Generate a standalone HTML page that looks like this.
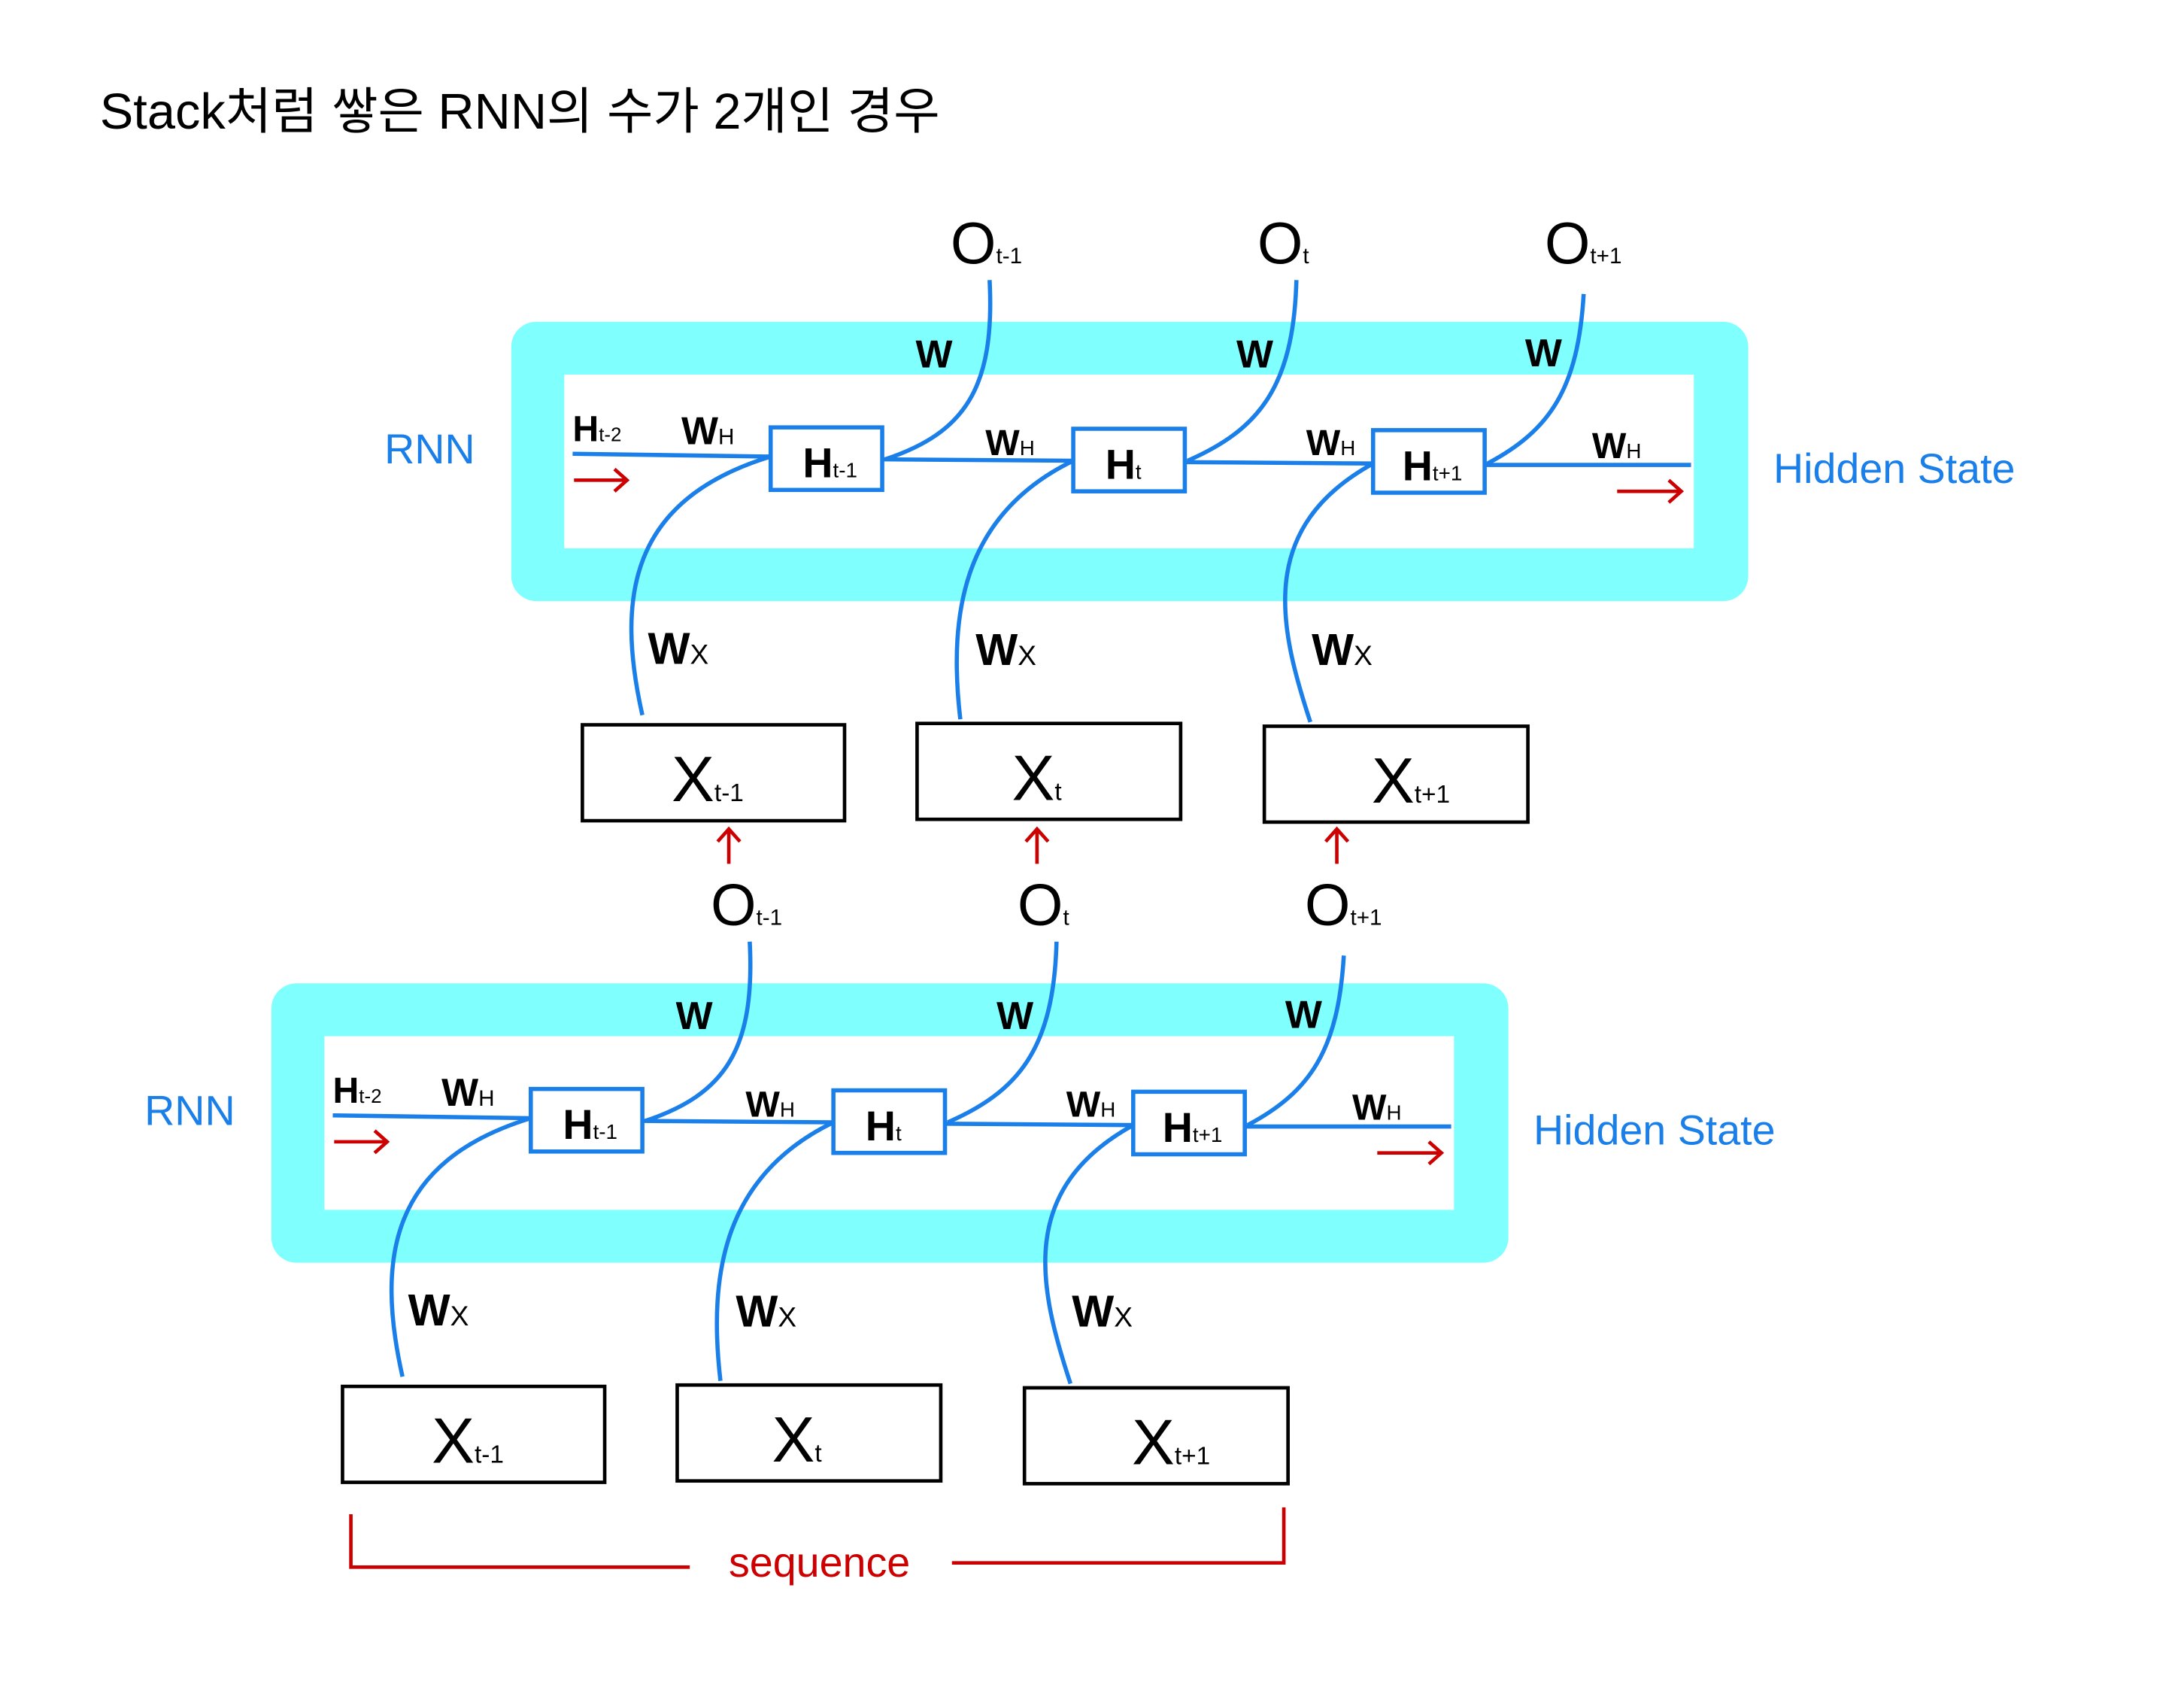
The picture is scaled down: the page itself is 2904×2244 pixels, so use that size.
<!DOCTYPE html>
<html><head><meta charset="utf-8"><style>
html,body{margin:0;padding:0;background:#fff;}
svg{display:block;}
.hw{font-family:"Liberation Sans",sans-serif;font-weight:bold;fill:#000;}
.ol{font-family:"Liberation Sans",sans-serif;font-weight:normal;fill:#000;}
.sub{font-family:"Liberation Sans",sans-serif;fill:#000;}
.bl{fill:none;stroke:#1a7fe8;stroke-width:3;}
</style></head><body>
<svg width="2904" height="2244" viewBox="0 0 1552 1199.3" preserveAspectRatio="none" xmlns="http://www.w3.org/2000/svg">
<defs>
<g id="blk">
  <rect x="365" y="232" width="887" height="201" rx="18" fill="#80ffff"/>
  <rect x="403" y="270" width="810" height="125" fill="#fff"/>
  <path class="bl" d="M409,327 L551,329 M631,331 L768,332 M848,333 L983,334 M1063,335 L1211,335"/>
  <path class="bl" d="M708,202 C712,280 690,312 633,331"/>
  <path class="bl" d="M928,202 C926,280 900,310 850,332"/>
  <path class="bl" d="M1134,212 C1130,280 1110,310 1065,334"/>
  <path class="bl" d="M459,515 C440,430 450,360 551,329"/>
  <path class="bl" d="M687,518 C678,440 690,370 768,332"/>
  <path class="bl" d="M938,520 C915,450 900,380 983,334"/>
  <rect x="551" y="308" width="80" height="45" fill="#fff" stroke="#1a7fe8" stroke-width="3"/>
  <rect x="768" y="309" width="80" height="45" fill="#fff" stroke="#1a7fe8" stroke-width="3"/>
  <rect x="983" y="310" width="80" height="45" fill="#fff" stroke="#1a7fe8" stroke-width="3"/>
  <text class="hw" x="574" y="344" font-size="30">H<tspan font-size="15" style="font-weight:normal">t-1</tspan></text>
  <text class="hw" x="791" y="345" font-size="30">H<tspan font-size="15" style="font-weight:normal">t</tspan></text>
  <text class="hw" x="1004" y="346" font-size="30">H<tspan font-size="15" style="font-weight:normal">t+1</tspan></text>
  <text class="hw" x="409" y="318" font-size="26">H<tspan font-size="14" style="font-weight:normal">t-2</tspan></text>
  <text class="hw" x="487" y="320" font-size="28">W<tspan font-size="16" style="font-weight:normal">H</tspan></text>
  <text class="hw" x="705" y="328" font-size="26">W<tspan font-size="15" style="font-weight:normal">H</tspan></text>
  <text class="hw" x="935" y="328" font-size="26">W<tspan font-size="15" style="font-weight:normal">H</tspan></text>
  <text class="hw" x="1140" y="330" font-size="26">W<tspan font-size="15" style="font-weight:normal">H</tspan></text>
  <text class="hw" x="655" y="265" font-size="28">W</text>
  <text class="hw" x="885" y="265" font-size="28">W</text>
  <text class="hw" x="1092" y="264" font-size="28">W</text>
  <text class="hw" x="463" y="478" font-size="32">W<tspan font-size="20" style="font-weight:normal">X</tspan></text>
  <text class="hw" x="698" y="479" font-size="32">W<tspan font-size="20" style="font-weight:normal">X</tspan></text>
  <text class="hw" x="939" y="479" font-size="32">W<tspan font-size="20" style="font-weight:normal">X</tspan></text>
  <text class="ol" x="680" y="190" font-size="42">O<tspan font-size="16">t-1</tspan></text>
  <text class="ol" x="900" y="190" font-size="42">O<tspan font-size="16">t</tspan></text>
  <text class="ol" x="1106" y="190" font-size="42">O<tspan font-size="16">t+1</tspan></text>
  <path d="M410,346 L447,346 M439,338 L448,346 L439,354" fill="none" stroke="#cc0000" stroke-width="2.5"/>
  <path d="M1158,354 L1203,354 M1195,346 L1204,354 L1195,362" fill="none" stroke="#cc0000" stroke-width="2.5"/>
  <text x="274" y="334" font-family="Liberation Sans,sans-serif" font-size="30" fill="#1a7fe8">RNN</text>
  <text x="1270" y="348" font-family="Liberation Sans,sans-serif" font-size="30" fill="#1a7fe8">Hidden State</text>
  <rect x="416" y="522" width="188" height="69" fill="#fff" stroke="#000" stroke-width="2.5"/>
  <rect x="656" y="521" width="189" height="69" fill="#fff" stroke="#000" stroke-width="2.5"/>
  <rect x="905" y="523" width="189" height="69" fill="#fff" stroke="#000" stroke-width="2.5"/>
  <text class="sub" x="480" y="577" font-size="46">X<tspan font-size="18">t-1</tspan></text>
  <text class="sub" x="724" y="576" font-size="46">X<tspan font-size="18">t</tspan></text>
  <text class="sub" x="982" y="578" font-size="46">X<tspan font-size="18">t+1</tspan></text>
</g>
</defs>
<g transform="matrix(0.991,0,0,0.9875,1.6,-0.5)">
<text x="70" y="93" font-family="Liberation Sans,'Noto Sans CJK KR',sans-serif" font-size="36" fill="#000">Stack처럼 쌓은 RNN의 수가 2개인 경우</text>
<use href="#blk"/>
<use href="#blk" transform="translate(-172,476)"/>
<g fill="none" stroke="#cc0000" stroke-width="2.5">
  <path d="M521,622 L521,598 M513,606 L521,597 L529,606"/>
  <path d="M742,622 L742,598 M734,606 L742,597 L750,606"/>
  <path d="M957,622 L957,598 M949,606 L957,597 L965,606"/>
  <path d="M250,1090 L250,1128 L493,1128 M681,1125 L919,1125 L919,1085"/>
</g>
<text x="586" y="1135" text-anchor="middle" font-family="Liberation Sans,sans-serif" font-size="30" fill="#cc0000">sequence</text>
</g>
</svg>
</body></html>
